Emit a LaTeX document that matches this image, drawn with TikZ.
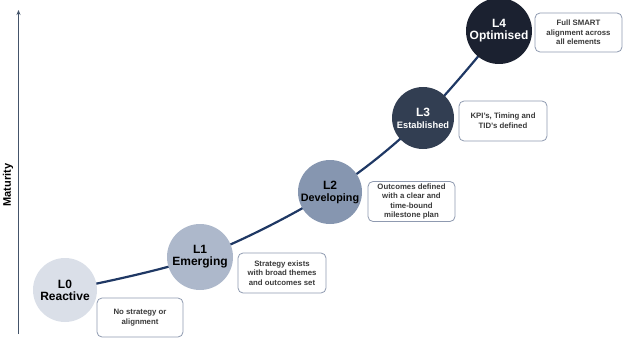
\documentclass[tikz,border=0pt]{standalone}
\usepackage{fontspec}
\setmainfont{Liberation Sans}
\usetikzlibrary{arrows.meta}
\definecolor{axiscol}{HTML}{44546A}
\definecolor{curvecol}{HTML}{1F3864}
\definecolor{cA}{HTML}{DADFE8}
\definecolor{cB}{HTML}{ADB8CB}
\definecolor{cC}{HTML}{8696B0}
\definecolor{cD}{HTML}{323E52}
\definecolor{cE}{HTML}{1B2130}
\definecolor{boxborder}{HTML}{8F9AB0}
\definecolor{boxtext}{HTML}{3A3A3A}
\tikzset{
  level/.style={circle, minimum size=#1, inner sep=0pt, align=center, font=\bfseries},
  descbox/.style={draw=boxborder, line width=0.8pt, rounded corners=5pt, fill=white,
    align=center, text=boxtext, font=\bfseries\fontsize{7.8}{9.6}\selectfont, inner sep=0pt},
}
\begin{document}
\begin{tikzpicture}[x=1pt,y=-1pt]
\useasboundingbox (0,0) rectangle (628,342);
% axis
\coordinate (axbot) at (18.5,334);
\coordinate (axtop) at (18.5,10);
\draw[axiscol, line width=1.3pt, -{Stealth[length=5pt,width=4pt]}] (axbot) -- (axtop);
\node[rotate=90, font=\bfseries\fontsize{11}{13}\selectfont] (mat) at (8,185) {Maturity};
% curve
\draw[curvecol, line width=2.2pt] plot[smooth, tension=0.55] coordinates {(65,290) (200,257) (330,192) (423,118) (499,31)};
% circles
\node[level=64pt, fill=cA] (l0) at (65,290) {\fontsize{12}{17}\selectfont L0\\\fontsize{12}{17}\selectfont Reactive};
\node[level=66pt, fill=cB] (l1) at (200,257) {\fontsize{12}{19}\selectfont L1\\\fontsize{12}{19}\selectfont Emerging};
\node[level=64pt, fill=cC] (l2) at (330,192) {\fontsize{12}{18}\selectfont L2\\\fontsize{10.8}{18}\selectfont Developing};
\node[level=62pt, fill=cD, text=white] (l3) at (423,118) {\fontsize{12}{17}\selectfont L3\\\fontsize{9.3}{17}\selectfont Established};
\node[level=66pt, fill=cE, text=white] (l4) at (499,31) {\fontsize{12}{14}\selectfont L4\\\fontsize{12}{14}\selectfont Optimised};
% boxes
\node[descbox, minimum width=86pt, minimum height=39pt] (b0) at (140,317.5) {No strategy or\\alignment};
\node[descbox, minimum width=88pt, minimum height=40pt] (b1) at (282,273) {Strategy exists\\with broad themes\\and outcomes set};
\node[descbox, minimum width=87pt, minimum height=40pt] (b2) at (411.5,201.5) {Outcomes defined\\with a clear and\\time-bound\\milestone plan};
\node[descbox, minimum width=88pt, minimum height=40pt] (b3) at (503,121) {KPI's, Timing and\\TID's defined};
\node[descbox, minimum width=87pt, minimum height=39pt] (b4) at (578.5,32.5) {Full SMART\\alignment across\\all elements};
\end{tikzpicture}
\end{document}
